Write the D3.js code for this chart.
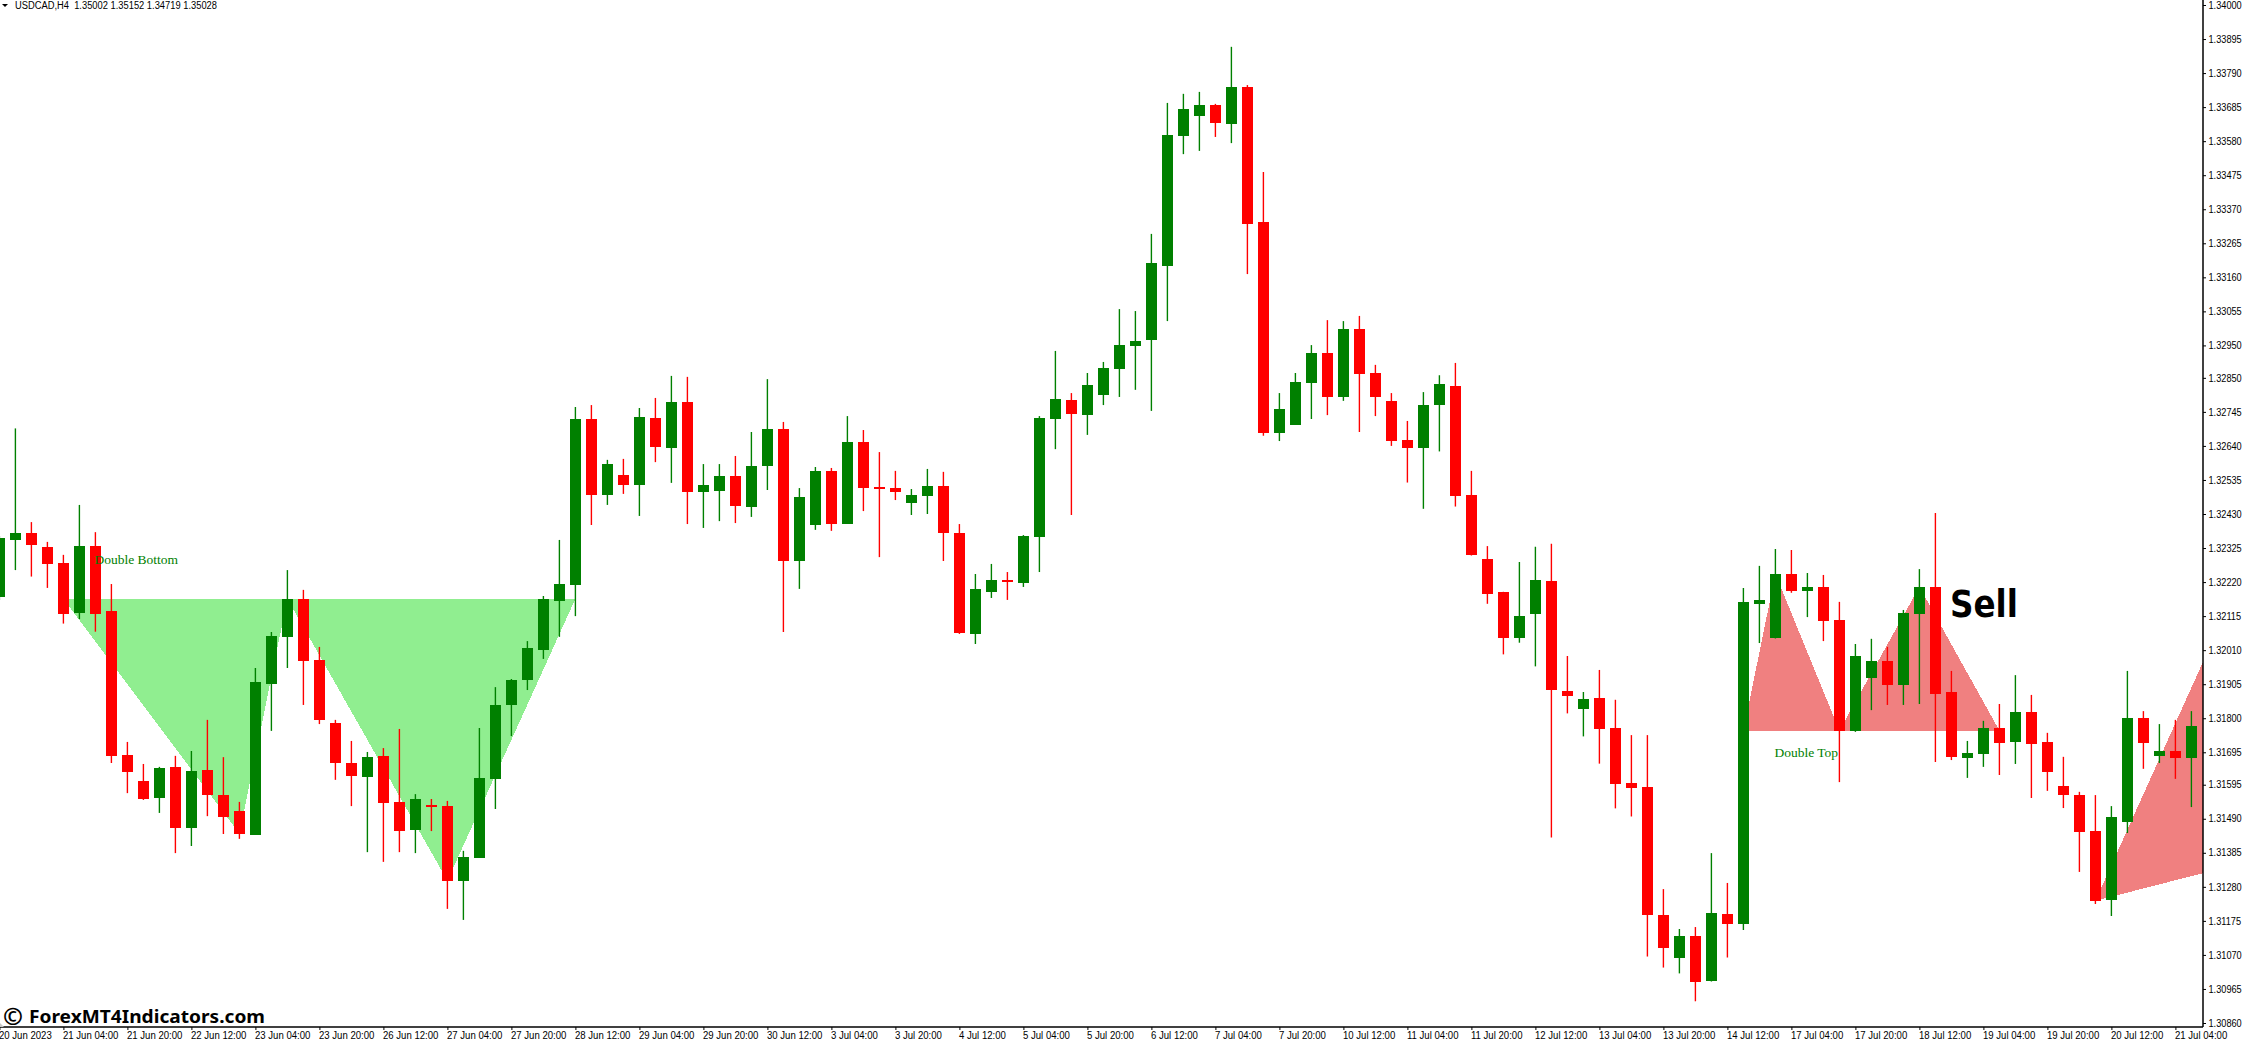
<!DOCTYPE html>
<html>
<head>
<meta charset="utf-8">
<script src="https://cdn.jsdelivr.net/npm/d3@7"></script>
<style>
  body { margin: 0; background: #fff; }
  text { font-family: "Liberation Sans", sans-serif; fill: #000; }
  .xAxis text { font-size: 10px; }
  .yAxis text { font-size: 10px; }
  .pattern { font-family: "Liberation Serif", serif; font-size: 13.5px; fill: #008000; }
</style>
</head>
<body>
<div id="chart"></div>
<script>
// USDCAD H4 prices, one entry per bar
var barOpen = [
  1.32175,1.32351,1.32371,1.32328,1.32279,1.32126,1.32331,1.32131,1.31687,1.31606,
  1.31555,1.31650,1.31463,1.31640,1.31563,1.31514,1.31441,1.31907,1.32052,1.32168,
  1.31980,1.31785,1.31662,1.31620,1.31684,1.31542,1.31456,1.31532,1.31529,1.31299,
  1.31370,1.31614,1.31842,1.31919,1.32012,1.32163,1.32212,1.32723,1.32490,1.32550,
  1.32520,1.32726,1.32635,1.32775,1.32499,1.32502,1.32547,1.32453,1.32579,1.32692,
  1.32286,1.32397,1.32563,1.32400,1.32652,1.32513,1.32510,1.32465,1.32487,1.32516,
  1.32371,1.32061,1.32190,1.32226,1.32218,1.32360,1.32724,1.32782,1.32736,1.32798,
  1.32878,1.32949,1.32968,1.33196,1.33597,1.33659,1.33692,1.33634,1.33747,1.33331,
  1.32681,1.32706,1.32835,1.32927,1.32792,1.33001,1.32865,1.32779,1.32658,1.32635,
  1.32765,1.32825,1.32489,1.32291,1.32190,1.32046,1.32123,1.32223,1.31885,1.31827,
  1.31862,1.31770,1.31600,1.31588,1.31193,1.31059,1.31129,1.30991,1.31196,1.31166,
  1.32153,1.32046,1.32245,1.32194,1.32205,1.32103,1.31762,1.31925,1.31977,1.31904,
  1.32123,1.32205,1.31881,1.31678,1.31691,1.31770,1.31728,1.31819,1.31727,1.31591,
  1.31563,1.31452,1.31240,1.31481,1.31801,1.31685,1.31699,1.31678
];
var barHigh = [
  1.32362,1.32694,1.32405,1.32344,1.32304,1.32458,1.32374,1.32214,1.31727,1.31659,
  1.31650,1.31684,1.31699,1.31795,1.31680,1.31542,1.31955,1.32066,1.32257,1.32196,
  1.32020,1.31795,1.31730,1.31696,1.31708,1.31767,1.31566,1.31551,1.31545,1.31391,
  1.31770,1.31896,1.31921,1.32038,1.32177,1.32350,1.32760,1.32766,1.32597,1.32600,
  1.32757,1.32788,1.32856,1.32853,1.32584,1.32584,1.32609,1.32683,1.32846,1.32714,
  1.32510,1.32575,1.32572,1.32732,1.32689,1.32621,1.32563,1.32507,1.32569,1.32560,
  1.32399,1.32245,1.32276,1.32251,1.32365,1.32732,1.32933,1.32803,1.32865,1.32899,
  1.33062,1.33056,1.33294,1.33698,1.33726,1.33732,1.33695,1.33871,1.33753,1.33485,
  1.32803,1.32865,1.32951,1.33028,1.33025,1.33041,1.32890,1.32803,1.32717,1.32806,
  1.32858,1.32896,1.32563,1.32331,1.32190,1.32282,1.32329,1.32338,1.31992,1.31881,
  1.31949,1.31857,1.31748,1.31748,1.31273,1.31150,1.31156,1.31384,1.31292,1.32202,
  1.32270,1.32322,1.32319,1.32248,1.32242,1.32159,1.32029,1.32045,1.32020,1.32134,
  1.32260,1.32433,1.31946,1.31730,1.31792,1.31844,1.31933,1.31872,1.31755,1.31681,
  1.31573,1.31563,1.31529,1.31946,1.31822,1.31782,1.31795,1.31822
];
var barLow = [
  1.32165,1.32257,1.32237,1.32202,1.32092,1.32106,1.32067,1.31662,1.31569,1.31548,
  1.31508,1.31384,1.31406,1.31498,1.31443,1.31428,1.31441,1.31761,1.31955,1.31841,
  1.31782,1.31610,1.31529,1.31387,1.31357,1.31387,1.31384,1.31452,1.31212,1.31178,
  1.31370,1.31520,1.31745,1.31887,1.31983,1.32051,1.32115,1.32396,1.32458,1.32492,
  1.32424,1.32590,1.32526,1.32399,1.32387,1.32408,1.32402,1.32421,1.32504,1.32066,
  1.32199,1.32381,1.32378,1.32400,1.32439,1.32297,1.32473,1.32427,1.32430,1.32285,
  1.32060,1.32029,1.32171,1.32165,1.32205,1.32251,1.32630,1.32427,1.32674,1.32766,
  1.32791,1.32813,1.32748,1.33025,1.33540,1.33550,1.33593,1.33574,1.33170,1.32671,
  1.32655,1.32706,1.32723,1.32735,1.32779,1.32683,1.32732,1.32640,1.32527,1.32446,
  1.32623,1.32453,1.32302,1.32153,1.31997,1.32033,1.31960,1.31432,1.31815,1.31744,
  1.31660,1.31522,1.31497,1.31065,1.31031,1.31013,1.30927,1.30988,1.31062,1.31147,
  1.32032,1.32046,1.32187,1.32112,1.32038,1.31603,1.31758,1.31825,1.31841,1.31841,
  1.31844,1.31665,1.31671,1.31616,1.31650,1.31625,1.31659,1.31554,1.31576,1.31523,
  1.31326,1.31227,1.31190,1.31446,1.31644,1.31662,1.31613,1.31526
];
var barClose = [
  1.32356,1.32371,1.32335,1.32277,1.32123,1.32331,1.32123,1.31685,1.31635,1.31552,
  1.31647,1.31463,1.31637,1.31563,1.31496,1.31444,1.31912,1.32054,1.32168,1.31978,
  1.31796,1.31663,1.31623,1.31680,1.31540,1.31453,1.31551,1.31526,1.31299,1.31372,
  1.31616,1.31841,1.31918,1.32017,1.32168,1.32214,1.32723,1.32490,1.32584,1.32520,
  1.32729,1.32638,1.32775,1.32499,1.32519,1.32547,1.32456,1.32578,1.32692,1.32286,
  1.32482,1.32563,1.32400,1.32652,1.32511,1.32508,1.32499,1.32489,1.32516,1.32372,
  1.32064,1.32199,1.32226,1.32221,1.32362,1.32726,1.32785,1.32739,1.32828,1.32880,
  1.32951,1.32964,1.33204,1.33599,1.33679,1.33692,1.33637,1.33747,1.33326,1.32681,
  1.32754,1.32837,1.32927,1.32792,1.33001,1.32863,1.32792,1.32656,1.32635,1.32766,
  1.32832,1.32484,1.32302,1.32182,1.32046,1.32116,1.32227,1.31886,1.31870,1.31859,
  1.31766,1.31598,1.31586,1.31192,1.31090,1.31129,1.30988,1.31200,1.31164,1.32159,
  1.32165,1.32245,1.32194,1.32205,1.32101,1.31762,1.31992,1.31977,1.31904,1.32125,
  1.32205,1.31876,1.31682,1.31693,1.31770,1.31725,1.31819,1.31722,1.31635,1.31564,
  1.31450,1.31237,1.31495,1.31801,1.31725,1.31699,1.31678,1.31776
];

var priceTicks = [
  "1.34000","1.33895","1.33790","1.33685","1.33580","1.33475","1.33370","1.33265",
  "1.33160","1.33055","1.32950","1.32850","1.32745","1.32640","1.32535","1.32430",
  "1.32325","1.32220","1.32115","1.32010","1.31905","1.31800","1.31695","1.31595",
  "1.31490","1.31385","1.31280","1.31175","1.31070","1.30965","1.30860"
];
var timeTicks = [
  "20 Jun 2023","21 Jun 04:00","21 Jun 20:00","22 Jun 12:00","23 Jun 04:00","23 Jun 20:00",
  "26 Jun 12:00","27 Jun 04:00","27 Jun 20:00","28 Jun 12:00","29 Jun 04:00","29 Jun 20:00",
  "30 Jun 12:00","3 Jul 04:00","3 Jul 20:00","4 Jul 12:00","5 Jul 04:00","5 Jul 20:00",
  "6 Jul 12:00","7 Jul 04:00","7 Jul 20:00","10 Jul 12:00","11 Jul 04:00","11 Jul 20:00",
  "12 Jul 12:00","13 Jul 04:00","13 Jul 20:00","14 Jul 12:00","17 Jul 04:00","17 Jul 20:00",
  "18 Jul 12:00","19 Jul 04:00","19 Jul 20:00","20 Jul 12:00","21 Jul 04:00"
];

// pattern triangles as [bar, price] corners
var doubleBottom = [
  [[4,1.32168],[15,1.31444],[18,1.32168]],
  [[18,1.32168],[28,1.31299],[36,1.32168]]
];
var doubleTop = [
  [[109,1.31762],[111,1.32245],[115,1.31762]],
  [[115,1.31762],[120,1.32205],[125,1.31762]],
  [[131,1.31237],[140,1.32223],[140,1.31351]]
];
var labels = [
  ["Double Bottom", 6, 1.32276, "pattern"],
  ["Double Top", 111, 1.31681, "pattern"]
];

var svgWidth = 2246;
var svgHeight = 1045;
var plotRight = 2203;
var plotBottom = 1027;
var bodyWidth = 11;

var svg = d3.select("#chart").append("svg")
  .attr("width", svgWidth)
  .attr("height", svgHeight)
  .style("display", "block");

var xScale = d3.scaleLinear().domain([0, 137]).range([-0.6, 2191.4]);
var yScale = d3.scaleLinear().domain([1.30860, 1.34000]).range([1023, 5]);

svg.append("clipPath").attr("id", "plot")
  .append("rect").attr("width", plotRight).attr("height", plotBottom);

var plot = svg.append("g").attr("clip-path", "url(#plot)");

var polyPoints = function(d) {
  return d.map(function(p) { return xScale(p[0]) + "," + yScale(p[1]); }).join(" ");
};

plot.selectAll(".dbl-bottom").data(doubleBottom).enter().append("polygon")
  .attr("points", polyPoints)
  .attr("fill", "#90ee90")
  .attr("shape-rendering", "crispEdges");

plot.selectAll(".dbl-top").data(doubleTop).enter().append("polygon")
  .attr("points", polyPoints)
  .attr("fill", "#f08080")
  .attr("shape-rendering", "crispEdges");

var barColor = function(i) {
  return barClose[i] >= barOpen[i] ? "#008000" : "#ff0000";
};

plot.selectAll(".wick").data(d3.range(barOpen.length)).enter().append("line")
  .attr("x1", function(i) { return xScale(i); })
  .attr("x2", function(i) { return xScale(i); })
  .attr("y1", function(i) { return yScale(barHigh[i]); })
  .attr("y2", function(i) { return yScale(barLow[i]); })
  .attr("stroke", barColor)
  .attr("stroke-width", 1.4);

plot.selectAll(".body").data(d3.range(barOpen.length)).enter().append("rect")
  .attr("x", function(i) { return xScale(i) - bodyWidth / 2; })
  .attr("y", function(i) { return yScale(Math.max(barOpen[i], barClose[i])); })
  .attr("width", bodyWidth)
  .attr("height", function(i) { return Math.abs(yScale(barOpen[i]) - yScale(barClose[i])); })
  .attr("fill", barColor)
  .attr("shape-rendering", "crispEdges");

// axes
var yAxis = d3.axisRight(yScale)
  .tickValues(priceTicks.map(Number))
  .tickFormat(d3.format(".5f"))
  .tickSize(3)
  .tickPadding(3);

svg.append("g").attr("class", "yAxis")
  .attr("transform", "translate(" + plotRight + ",0)")
  .call(yAxis)
  .call(function(g) {
    g.select(".domain").remove();
    // terminal font is narrower than Liberation
    g.selectAll("text").attr("x", 6).attr("transform", "scale(0.92,1)");
  });

var xAxis = d3.axisBottom(xScale)
  .tickValues(timeTicks.map(function(d, i) { return i * 4; }))
  .tickFormat(function(d) { return timeTicks[d / 4]; })
  .tickSize(3)
  .tickPadding(2);

svg.append("g").attr("class", "xAxis")
  .attr("transform", "translate(0," + plotBottom + ")")
  .call(xAxis)
  .call(function(g) {
    g.select(".domain").remove();
    g.selectAll("text").attr("text-anchor", "start").attr("dx", -1).attr("transform", "scale(0.96,1)");
  });

svg.append("line").attr("x1", 0).attr("x2", plotRight).attr("y1", plotBottom).attr("y2", plotBottom)
  .attr("stroke", "#000").attr("stroke-width", 1.5);
svg.append("line").attr("x1", plotRight).attr("x2", plotRight).attr("y1", 0).attr("y2", plotBottom)
  .attr("stroke", "#000").attr("stroke-width", 1.5);

// texts on the chart
svg.selectAll(".label").data(labels).enter().append("text")
  .attr("class", function(d) { return d[3]; })
  .attr("x", function(d) { return xScale(d[1]) - 1; })
  .attr("y", function(d) { return yScale(d[2]); })
  .text(function(d) { return d[0]; });

svg.append("text")
  .attr("x", xScale(122) - 1.5)
  .attr("y", yScale(1.32113))
  .attr("textLength", 68)
  .attr("lengthAdjust", "spacingAndGlyphs")
  .style("font-family", "'DejaVu Sans', sans-serif")
  .style("font-weight", "bold")
  .style("font-size", "36.5px")
  .text("Sell");

// watermark
svg.append("path").attr("d", "M0,1027V1023L4,1027Z").attr("fill", "#c8c8c8");
svg.append("text")
  .attr("x", 3)
  .attr("y", 1024.5)
  .style("font-family", "'Noto Sans', sans-serif")
  .style("font-weight", "bold")
  .style("font-size", "24px")
  .text("©");
svg.append("text")
  .attr("x", 29)
  .attr("y", 1023)
  .attr("textLength", 236)
  .attr("lengthAdjust", "spacingAndGlyphs")
  .style("font-family", "'Noto Sans', sans-serif")
  .style("font-weight", "bold")
  .style("font-size", "18px")
  .text("ForexMT4Indicators.com");

// header
svg.append("path").attr("d", "M2,4H8L5,7Z").attr("fill", "#000");
svg.append("text")
  .attr("x", 15)
  .attr("y", 9)
  .attr("textLength", 202)
  .attr("lengthAdjust", "spacingAndGlyphs")
  .style("font-size", "10px")
  .attr("xml:space", "preserve")
  .text("USDCAD,H4  1.35002 1.35152 1.34719 1.35028");
</script>
</body>
</html>
